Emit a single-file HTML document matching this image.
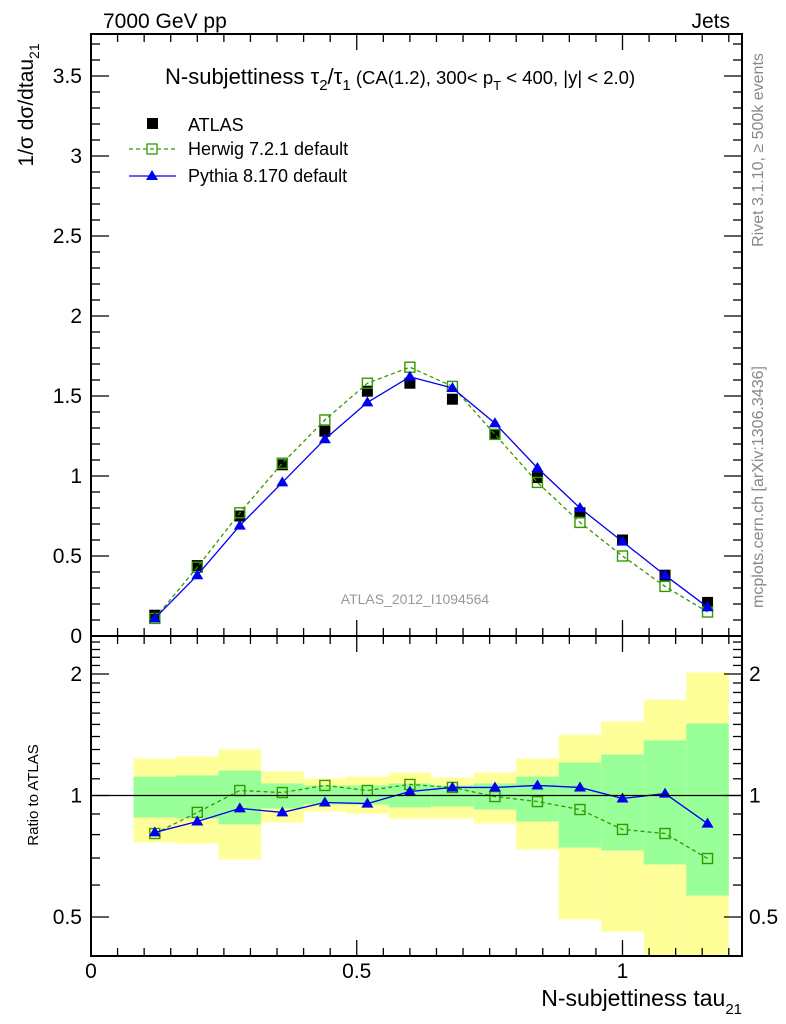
<!DOCTYPE html>
<html><head><meta charset="utf-8"><style>
body{margin:0;background:#fff;}
svg{display:block;font-family:"Liberation Sans",sans-serif;}
</style></head><body>
<svg id="chart" width="786" height="1024" viewBox="0 0 786 1024" xmlns="http://www.w3.org/2000/svg">
<g id="bands"></g>
<g id="main"></g>
<g id="ratio"></g>
<g id="axes"></g>
<text x="103" y="28" font-size="21">7000 GeV pp</text>
<text x="730" y="28" font-size="21" text-anchor="end">Jets</text>
<text x="165" y="84" font-size="22">N-subjettiness τ<tspan font-size="15" dy="6">2</tspan><tspan dy="-6">/τ</tspan><tspan font-size="15" dy="6">1</tspan><tspan dy="-6" font-size="18.5"> (CA(1.2), 300&lt; p</tspan><tspan font-size="13" dy="6">T</tspan><tspan dy="-6" font-size="18.5"> &lt; 400, |y| &lt; 2.0)</tspan></text>
<g>
<rect x="147" y="118" width="11" height="11" fill="#000"/>
<text x="188" y="131" font-size="18">ATLAS</text>
<line x1="129" y1="149" x2="176" y2="149" stroke="#339900" stroke-width="1.3" stroke-dasharray="4,3"/>
<rect x="147" y="144" width="10" height="10" fill="none" stroke="#339900" stroke-width="1.3"/>
<text x="188" y="155" font-size="18">Herwig 7.2.1 default</text>
<line x1="129" y1="176" x2="176" y2="176" stroke="#0000ee" stroke-width="1.3"/>
<polygon points="152,170 146,180 158,180" fill="#0000ee"/>
<text x="188" y="182" font-size="18">Pythia 8.170 default</text>
</g>
<text x="415" y="604" font-size="14" fill="#999" text-anchor="middle">ATLAS_2012_I1094564</text>
<text transform="translate(33,105) rotate(-90)" font-size="21" text-anchor="middle">1/σ dσ/dtau<tspan font-size="14" dy="6">21</tspan></text>
<text transform="translate(38,795) rotate(-90)" font-size="15" text-anchor="middle">Ratio to ATLAS</text>
<text x="742" y="1006" font-size="23" text-anchor="end">N-subjettiness tau<tspan font-size="15" dy="8">21</tspan></text>
<text transform="translate(763,150) rotate(-90)" font-size="16" fill="#888" text-anchor="middle">Rivet 3.1.10, ≥ 500k events</text>
<text transform="translate(763,487) rotate(-90)" font-size="16" fill="#888" text-anchor="middle">mcplots.cern.ch [arXiv:1306.3436]</text>
</svg>
<script>
const xCenters=[0.12,0.2,0.28,0.36,0.44,0.52,0.6,0.68,0.76,0.84,0.92,1.0,1.08,1.16];
const atlasVals=[0.13,0.44,0.75,1.07,1.28,1.53,1.58,1.48,1.26,0.99,0.77,0.60,0.38,0.21];
const herwigVals=[0.11,0.43,0.77,1.08,1.35,1.58,1.68,1.56,1.26,0.96,0.71,0.50,0.31,0.15];
const pythiaVals=[0.11,0.38,0.69,0.96,1.23,1.46,1.62,1.55,1.33,1.05,0.80,0.59,0.38,0.18];
const herwigRatio=[0.805,0.908,1.029,1.017,1.059,1.029,1.065,1.047,0.994,0.966,0.923,0.824,0.805,0.698];
const pythiaRatio=[0.810,0.862,0.929,0.908,0.961,0.955,1.023,1.047,1.047,1.059,1.047,0.983,1.011,0.852];
const yellowHi=[1.235,1.249,1.300,1.147,1.102,1.114,1.140,1.108,1.140,1.235,1.416,1.525,1.729,2.017];
const yellowLo=[0.765,0.760,0.694,0.857,0.913,0.902,0.877,0.877,0.852,0.735,0.493,0.460,0.3,0.3];
const greenHi=[1.114,1.121,1.153,1.071,1.059,1.059,1.071,1.059,1.071,1.114,1.207,1.263,1.369,1.508];
const greenLo=[0.882,0.877,0.848,0.929,0.950,0.950,0.934,0.939,0.923,0.862,0.743,0.731,0.675,0.565];
const binW=0.08;
const xTickLabels=["0","0.5","1"];
const yTickLabels=["0","0.5","1","1.5","2","2.5","3","3.5"];
const rTickLabels=["0.5","1","2"];

const NS="http://www.w3.org/2000/svg";
const L=91,R=742,MT=34,MB=636,RT=636,RB=956;
const X=v=>L+v*531.5;
const Y=v=>636-v*160;
const RY=v=>795.5-121.5*Math.log2(v);
function mk(tag,attrs,parent){const e=document.createElementNS(NS,tag);for(const k in attrs)e.setAttribute(k,attrs[k]);parent.appendChild(e);return e;}
const bands=document.getElementById('bands'),main=document.getElementById('main'),ratio=document.getElementById('ratio'),axes=document.getElementById('axes');

const defs=mk('defs',{},document.getElementById('chart'));
const cp=mk('clipPath',{id:'rc'},defs);mk('rect',{x:L,y:RT,width:R-L,height:RB-RT},cp);
bands.setAttribute('clip-path','url(#rc)');
ratio.setAttribute('clip-path','url(#rc)');

xCenters.forEach((c,i)=>{
  const x0=X(c-binW/2),x1=X(c+binW/2);
  const y=mk('rect',{x:x0,y:RY(yellowHi[i]),width:x1-x0,height:RY(yellowLo[i])-RY(yellowHi[i]),fill:'#ffff99'},bands);
  
  
  const g=mk('rect',{x:x0,y:RY(greenHi[i]),width:x1-x0,height:RY(greenLo[i])-RY(greenHi[i]),fill:'#99ff99'},bands);
  
  
});
mk('line',{x1:L,y1:RY(1),x2:R,y2:RY(1),stroke:'#000','stroke-width':1.3},axes);

function series(parent,vals,yf,color,dash,marker,name){
  const pts=xCenters.map((c,i)=>X(c)+','+yf(vals[i])).join(' ');
  const pl=mk('polyline',{points:pts,fill:'none',stroke:color,'stroke-width':1.3},parent);
  if(dash)pl.setAttribute('stroke-dasharray','4,3');
  
  
  xCenters.forEach((c,i)=>{
    const x=X(c),y=yf(vals[i]);let m;
    if(marker==='sq')m=mk('rect',{x:x-5,y:y-5,width:10,height:10,fill:'none',stroke:color,'stroke-width':1.4},parent);
    else m=mk('polygon',{points:`${x},${y-6} ${x-6},${y+4} ${x+6},${y+4}`,fill:color},parent);
    
    
  });
}
xCenters.forEach((c,i)=>{
  const m=mk('rect',{x:X(c)-5.5,y:Y(atlasVals[i])-5.5,width:11,height:11,fill:'#000'},main);
  
  
});
series(main,herwigVals,Y,'#339900',true,'sq','herwig');
series(main,pythiaVals,Y,'#0000ee',false,'tri','pythia');
series(ratio,herwigRatio,RY,'#339900',true,'sq','herwig-ratio');
series(ratio,pythiaRatio,RY,'#0000ee',false,'tri','pythia-ratio');

[[MT,MB],[RT,RB]].forEach(([t,b])=>mk('rect',{x:L,y:t,width:R-L,height:b-t,fill:'none',stroke:'#000','stroke-width':2},axes));
[[MT,MB],[RT,RB]].forEach(([t,b])=>{
  for(let k=0;k<=24;k++){const v=k*0.05;const x=X(v);if(x>R)break;const big=k%10==0;const len=big?16:8;
    mk('line',{x1:x,y1:b,x2:x,y2:b-len,stroke:'#000','stroke-width':1.3},axes);
    mk('line',{x1:x,y1:t,x2:x,y2:t+len,stroke:'#000','stroke-width':1.3},axes);}
});
xTickLabels.forEach((s,i)=>{const t=mk('text',{x:X(i*0.5),y:978,'font-size':21,'text-anchor':'middle'},axes);t.textContent=s;
  
  });
for(let k=0;k<=37;k++){const y=Y(k*0.1);const big=k%5==0;const len=big?18:9;
  mk('line',{x1:L,y1:y,x2:L+len,y2:y,stroke:'#000','stroke-width':1.3},axes);
  mk('line',{x1:R,y1:y,x2:R-len,y2:y,stroke:'#000','stroke-width':1.3},axes);}
yTickLabels.forEach((s,i)=>{const t=mk('text',{x:82,y:Y(i*0.5)+7,'font-size':21,'text-anchor':'end'},axes);t.textContent=s;
  
  });
[0.5,0.6,0.7,0.8,0.9,1,1.1,1.2,1.3,1.4,1.5,1.6,1.7,1.8,1.9,2,2.1,2.2,2.3,2.4].forEach(v=>{
  const y=RY(v);const big=(v===0.5||v===1||v===2);const len=big?18:9;
  mk('line',{x1:L,y1:y,x2:L+len,y2:y,stroke:'#000','stroke-width':1.3},axes);
  mk('line',{x1:R,y1:y,x2:R-len,y2:y,stroke:'#000','stroke-width':1.3},axes);});
rTickLabels.forEach(s=>{const v=parseFloat(s);
  const t=mk('text',{x:82,y:RY(v)+7,'font-size':21,'text-anchor':'end'},axes);t.textContent=s;
  
  
  const t2=mk('text',{x:749,y:RY(v)+7,'font-size':21},axes);t2.textContent=s;
  
  });
</script>
</body></html>
